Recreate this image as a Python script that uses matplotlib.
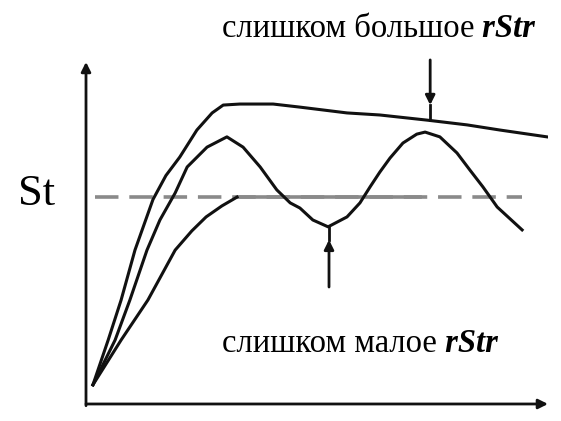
import matplotlib.pyplot as plt
import numpy as np

# curves (t, St), arbitrary units 0..100
top_t = [1.5, 4.8, 7.6, 10.6, 14.5, 17.3, 20.3, 24.0, 27.3, 29.7, 33.3, 40.5, 46.3,
         56.5, 63.6, 73.8, 82.5, 89.6, 99.8]
top_s = [5.6, 18.7, 30.4, 45.0, 59.8, 66.8, 72.2, 80.1, 85.1, 87.4, 87.7, 87.7, 86.8,
         85.1, 84.5, 83.0, 81.6, 80.1, 78.1]

osc_t = [1.5, 6.3, 9.5, 13.2, 16.0, 19.3, 21.9, 26.2, 30.5, 34.0, 37.7, 41.3, 44.2,
         46.3, 49.1, 52.4, 56.5, 59.3, 61.5, 63.6, 65.8, 68.6, 71.6, 73.4, 76.6,
         80.3, 83.1, 85.9, 89.0, 94.4]
osc_s = [5.6, 18.7, 30.4, 45.0, 53.8, 61.7, 69.3, 75.1, 78.1, 75.1, 69.3, 62.6, 58.8,
         57.3, 53.8, 51.8, 54.7, 58.8, 63.5, 67.8, 71.9, 76.3, 78.9, 79.5, 78.1,
         73.4, 68.4, 63.5, 57.6, 50.9]

low_t = [1.5, 7.6, 13.4, 19.3, 22.9, 26.0, 29.4, 32.7]
low_s = [5.6, 18.7, 30.4, 45.0, 50.6, 54.7, 57.9, 60.5]
flat_t = [32.7, 72.3]
flat_s = [60.5, 60.5]

target_t = [1.9, 94.4]
target_s = [60.5, 60.5]

# arrows: x position, start, head tip, end on curve
big_arrow = (74.5, 100.6, 87.4, 83.0)
small_arrow = (52.6, 34.2, 48.0, 51.8)

plt.rcParams['font.family'] = ['Liberation Serif', 'DejaVu Serif']

fig = plt.figure(figsize=(5.61, 4.21), dpi=100)
ax = fig.add_axes([0.1533, 0.0404, 0.8235, 0.8124])
ax.set_xlim(0, 100)
ax.set_ylim(0, 100)
ax.axis('off')

lw = 2.2
ax.plot(target_t, target_s, color='#8a8a8a', lw=2.6, dashes=(6.5, 3))
ax.plot(flat_t, flat_s, color='#8a8a8a', lw=2.6)
ax.plot(top_t, top_s, color='#111111', lw=lw, solid_joinstyle='round')
ax.plot(osc_t, osc_s, color='#111111', lw=lw, solid_joinstyle='round')
ax.plot(low_t, low_s, color='#111111', lw=lw, solid_joinstyle='round')

# axes with arrows
arrow = dict(arrowstyle='-|>', color='#111111', lw=2, mutation_scale=14,
             shrinkA=0, shrinkB=0)
ax.annotate('', xy=(0, 1), xytext=(0, -0.005), xycoords='axes fraction', arrowprops=arrow)
ax.annotate('', xy=(1, 0), xytext=(0, 0), xycoords='axes fraction', arrowprops=arrow)

for x, s0, head, s1 in [big_arrow, small_arrow]:
    ax.plot([x, x], [head, s1], color='#111111', lw=2, clip_on=False)
    ax.annotate('', xy=(x, head), xytext=(x, s0), arrowprops=arrow, annotation_clip=False)

ax.text(-10.6, 58.2, 'St', fontsize=32, ha='center', va='baseline', clip_on=False)

for y, label in [(107.3, 'слишком большое'), (15.2, 'слишком малое')]:
    t1 = ax.text(29.4, y, label, fontsize=23.5, ha='left', va='baseline', clip_on=False)
    ax.annotate(' rStr', xy=(1, 0), xycoords=t1, ha='left', va='bottom',
                fontsize=23.5, fontweight='bold', fontstyle='italic', annotation_clip=False)

fig.savefig('out.png', dpi=100)
